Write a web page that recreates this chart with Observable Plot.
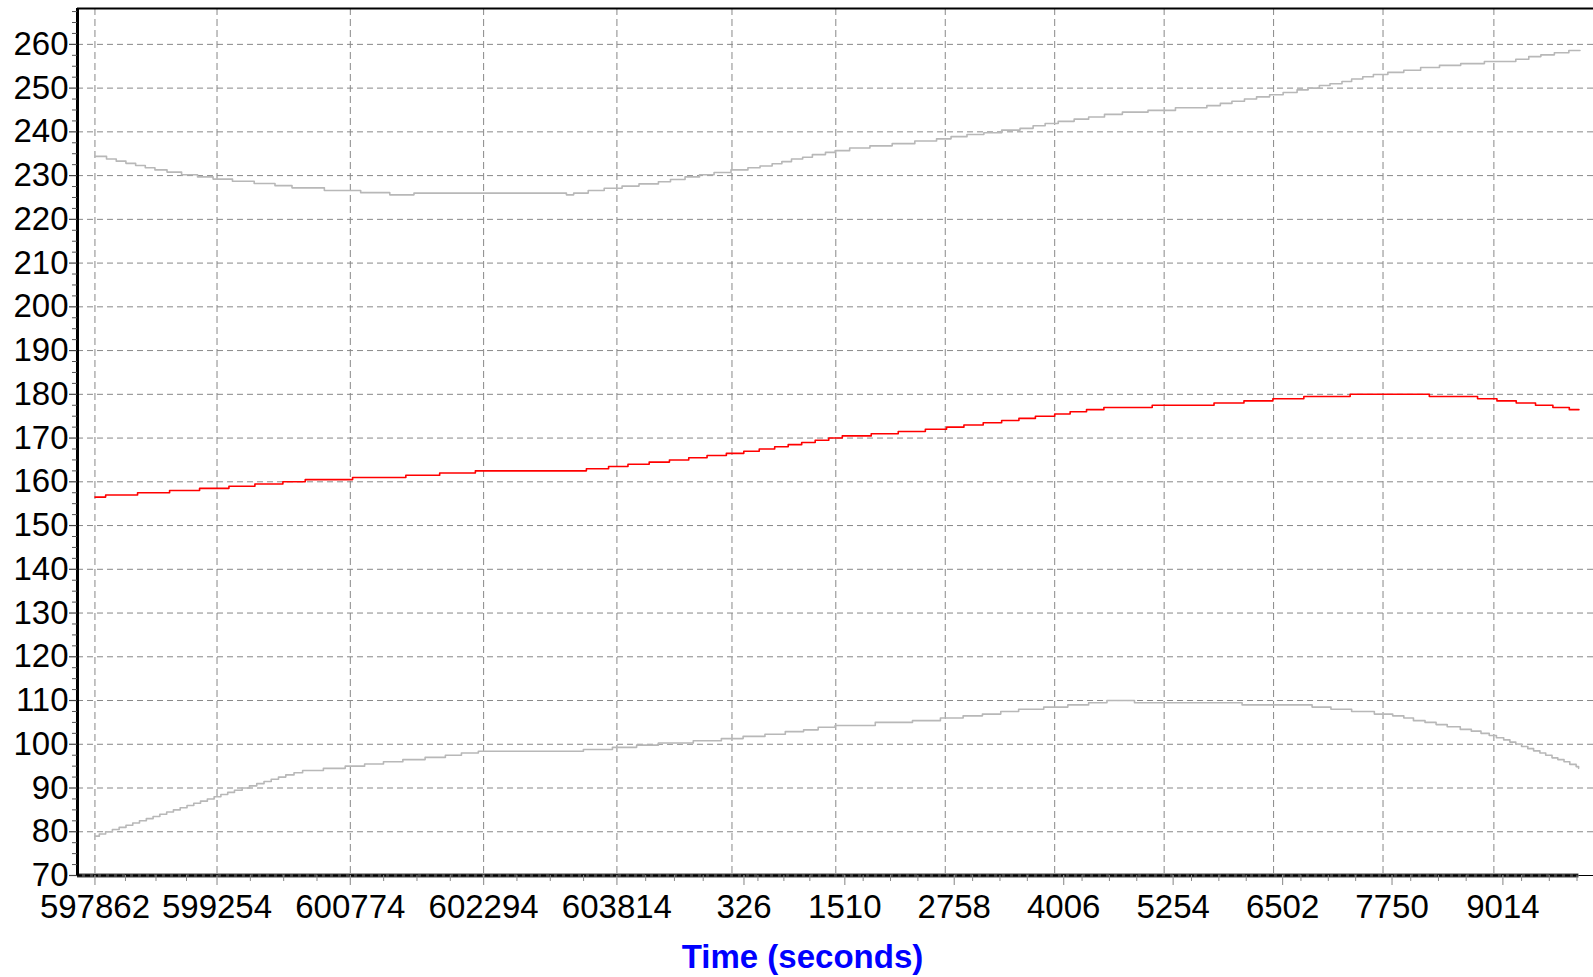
<!DOCTYPE html>
<html>
<head>
<meta charset="utf-8">
<script src="https://cdn.jsdelivr.net/npm/d3@7"></script>
<script src="https://cdn.jsdelivr.net/npm/@observablehq/plot@0.6"></script>
<style>
  html, body { margin: 0; padding: 0; background: #fff; overflow: hidden; }
  #chart svg { display: block; }
</style>
</head>
<body>
<div id="chart"></div>
<script>
// GPS time of week wraps at 604800 s
const WEEK = 604800;

// x tick labels (time of week, seconds)
const xTickLabels = [597862, 599254, 600774, 602294, 603814, 326, 1510, 2758, 4006, 5254, 6502, 7750, 9014];
// y tick values
const yTickValues = [70, 80, 90, 100, 110, 120, 130, 140, 150, 160, 170, 180, 190, 200, 210, 220, 230, 240, 250, 260];

// upper grey series (continuous seconds, value)
const upperT = [597862, 597994, 598105, 598215, 598326, 598436, 598546, 598684, 598850, 599032, 599209, 599430, 599678, 599915, 600109, 600478, 600892, 601224, 601500, 603238, 603321, 603487, 603669, 603873, 604066, 604287, 604425, 604591, 604756, 604922, 605115, 605308, 605446, 605584, 605695, 605805, 605932, 606043, 606192,
  606303, 606468, 606699, 606953, 607211, 607459, 607624, 607806, 607998, 608202, 608411, 608560, 608697, 608846, 609028, 609193, 609374, 609578, 609870, 610183, 610541, 610695, 610827, 610970, 611108, 611257, 611411, 611570, 611697, 611824, 611945, 612082, 612192, 612319, 612440, 612605, 612787, 612979, 613194, 613436, 613706, 614064, 614212, 614350, 614504, 614669, 614796];
const upperV = [234.4, 233.8, 233.3, 232.8, 232.3, 231.8, 231.3, 230.8, 230.2, 229.7, 229.2, 228.7, 228.2, 227.7, 227.2, 226.6, 226.1, 225.6, 226.0, 225.6, 226.0, 226.6, 227.1, 227.6, 228.1, 228.6, 229.1, 229.7, 230.2, 230.7, 231.3, 231.8, 232.2, 232.7, 233.2, 233.8, 234.2, 234.8, 235.3,
  235.7, 236.3, 236.8, 237.3, 237.9, 238.4, 238.9, 239.4, 239.8, 240.4, 240.8, 241.4, 241.9, 242.4, 242.9, 243.4, 244.0, 244.5, 244.9, 245.5, 246.0, 246.5, 247.0, 247.5, 248.0, 248.5, 249.0, 249.6, 250.0, 250.6, 251.0, 251.5, 252.1, 252.6, 253.1, 253.6, 254.1, 254.7, 255.2, 255.6, 256.1, 256.6, 257.2, 257.6, 258.1, 258.6, 258.6];

// red series
const redT = [597862, 597984, 598348, 598713, 599055, 599390, 599686, 600005, 600260, 600800, 601407, 601793, 602200, 603466, 603719, 603940, 604182, 604413, 604633, 604842, 605062, 605261, 605437, 605613, 605767, 605921, 606075, 606230, 606384, 606714, 607022, 607331, 607573, 607771, 607991, 608201, 608398, 608586, 608806, 608982, 609169, 609367, 609918, 610623, 610964, 611294, 611647, 612175, 613078, 613628, 613849, 614069, 614289, 614487, 614674, 614784];
const redV = [156.5, 157.0, 157.5, 158.0, 158.5, 159.0, 159.5, 160.0, 160.5, 161.0, 161.5, 162.0, 162.5, 163.0, 163.5, 164.0, 164.5, 165.0, 165.5, 166.0, 166.5, 167.0, 167.5, 168.0, 168.5, 169.0, 169.5, 170.0, 170.5, 171.0, 171.5, 172.0, 172.5, 173.0, 173.5, 174.0, 174.5, 175.0, 175.5, 176.0, 176.5, 177.0, 177.5, 178.0, 178.5, 179.0, 179.5, 180.0, 179.5, 179.0, 178.5, 178.0, 177.5, 177.0, 176.5, 176.5];

// lower grey series
const lowerT = [597862, 597912, 597984, 598061, 598138, 598216, 598293, 598370, 598448, 598525, 598602, 598680, 598757, 598834, 598912, 598989, 599066, 599144, 599221, 599298, 599376, 599453, 599541, 599624, 599707, 599790, 599872, 599955, 600038, 600132, 600230, 600467, 600716, 600937, 601152, 601373, 601627, 601858, 602041, 602234, 603432, 603763, 604039, 604287, 604685, 605005, 605253, 605502, 605734, 605943, 606109, 606302,
  606760, 607184, 607503, 607762, 607982, 608191, 608395, 608681, 608956, 609193, 609402, 609716, 610943, 611741, 611956, 612192, 612451, 612660, 612787, 612897, 613029, 613155, 613282, 613431, 613557, 613667, 613761, 613843, 613926, 613997, 614064, 614130, 614201, 614267, 614339, 614405, 614477, 614543, 614614, 614680, 614752, 614780];
const lowerV = [79.0, 79.5, 80.0, 80.5, 81.0, 81.5, 82.0, 82.5, 83.0, 83.5, 84.0, 84.5, 85.0, 85.5, 86.0, 86.5, 87.0, 87.5, 88.0, 88.5, 89.0, 89.5, 90.0, 90.5, 91.0, 91.5, 92.0, 92.5, 93.0, 93.5, 94.0, 94.5, 95.0, 95.5, 96.0, 96.5, 97.0, 97.5, 98.0, 98.4, 98.8, 99.3, 99.8, 100.3, 100.8, 101.3, 101.8, 102.3, 102.9, 103.3, 103.9, 104.3,
  105.0, 105.4, 106.0, 106.5, 106.9, 107.5, 108.0, 108.5, 109.0, 109.5, 110.0, 109.5, 109.0, 108.5, 108.0, 107.5, 106.9, 106.5, 106.0, 105.4, 105.0, 104.5, 104.0, 103.4, 103.0, 102.5, 102.0, 101.5, 101.0, 100.5, 100.0, 99.5, 99.0, 98.5, 98.0, 97.5, 96.9, 96.5, 96.0, 95.4, 94.9, 94.5];

// ---- build tables ----
const unwrap = s => s < WEEK / 2 ? s + WEEK : s;
const xTicks = xTickLabels.map(unwrap);
const zip = (T, V) => T.map((t, i) => ({t, v: V[i]}));
const upper = zip(upperT, upperV);
const red = zip(redT, redV);
const lower = zip(lowerT, lowerV);

const xDomain = [597663, 614950];
const yDomain = [70, 268.2];
const dataEnd = redT[redT.length - 1];

// minor ticks: quarters between major ticks
const xMinor = [];
for (let i = 0; i < xTicks.length; i++) {
  const a = xTicks[i];
  const step = i < xTicks.length - 1 ? xTicks[i + 1] - a : a - xTicks[i - 1];
  for (let k = 1; k < 4; k++) {
    const v = a + step * k / 4;
    if (v < xDomain[1]) xMinor.push(v);
  }
}
const yMinor = d3.range(72.5, 268, 2.5).filter(v => Math.abs(v % 10) > 1e-6);

// labels are grouped by length (short labels sit a bit right of their tick)
const labelLen = d => String(d % WEEK).length;
const xTicks6 = xTicks.filter(d => labelLen(d) >= 6);
const xTicks4 = xTicks.filter(d => labelLen(d) === 4);
const xTicks3 = xTicks.filter(d => labelLen(d) <= 3);

const font = "'Liberation Sans', Arial, Helvetica, sans-serif";
const fmt = d => String(d % WEEK);
const xAxisOpts = {tickSize: 10, tickPadding: 9, fontSize: 33, fill: "#000", stroke: "#999", strokeWidth: 1.2, tickFormat: fmt, label: null};

const chart = Plot.plot({
  width: 1593,
  height: 977,
  marginLeft: 77,
  marginRight: 0,
  marginTop: 8,
  marginBottom: 102,
  style: {fontFamily: font, background: "#fff", overflow: "visible"},
  x: {domain: xDomain},
  y: {domain: yDomain},
  marks: [
    Plot.gridY(yTickValues.filter(v => v > 70), {stroke: "#888", strokeOpacity: 1, strokeWidth: 1, strokeDasharray: "6,4"}),
    Plot.gridX(xTicks, {stroke: "#888", strokeOpacity: 1, strokeWidth: 1, strokeDasharray: "7,4"}),
    Plot.line(upper, {x: "t", y: "v", curve: "step-after", stroke: "#b8b8b8", strokeWidth: 1.6}),
    Plot.line(lower, {x: "t", y: "v", curve: "step-after", stroke: "#b8b8b8", strokeWidth: 1.6}),
    Plot.line(red, {x: "t", y: "v", curve: "step-after", stroke: "#ff0000", strokeWidth: 1.6}),
    // bottom axis line
    Plot.ruleY([70], {x1: xDomain[0], x2: dataEnd, stroke: "#444", strokeWidth: 4}),
    Plot.ruleY([70], {x1: xDomain[0], x2: dataEnd, stroke: "#000", strokeWidth: 2, strokeDasharray: "5,3"}),
    Plot.ruleY([70], {x1: dataEnd, x2: xDomain[1], stroke: "#000", strokeWidth: 1}),
    // top border
    Plot.ruleY([yDomain[1]], {stroke: "#000", strokeWidth: 2}),
    // left axis line
    Plot.ruleX([xDomain[0]], {stroke: "#000", strokeWidth: 3}),
    // y axis
    Plot.axisY(yTickValues, {tickSize: 8, tickPadding: 1, fontSize: 33, fill: "#000", stroke: "#444", strokeWidth: 1.2, label: null}),
    Plot.axisY(yMinor, {tickSize: 5, tickFormat: () => "", stroke: "#555", strokeWidth: 1, label: null}),
    // x axis
    Plot.axisX(xTicks6, xAxisOpts),
    Plot.axisX(xTicks4, {...xAxisOpts, dx: 9}),
    Plot.axisX(xTicks3, {...xAxisOpts, dx: 12}),
    Plot.axisX(xMinor, {tickSize: 6, tickFormat: () => "", stroke: "#888", strokeWidth: 1, label: null}),
    // axis title
    Plot.text(["Time (seconds)"], {frameAnchor: "bottom", dx: -33, dy: 92, lineAnchor: "bottom", fontSize: 33, fontWeight: "bold", fill: "#0000ff", fontFamily: font})
  ]
});

document.getElementById("chart").appendChild(chart);
</script>
</body>
</html>
